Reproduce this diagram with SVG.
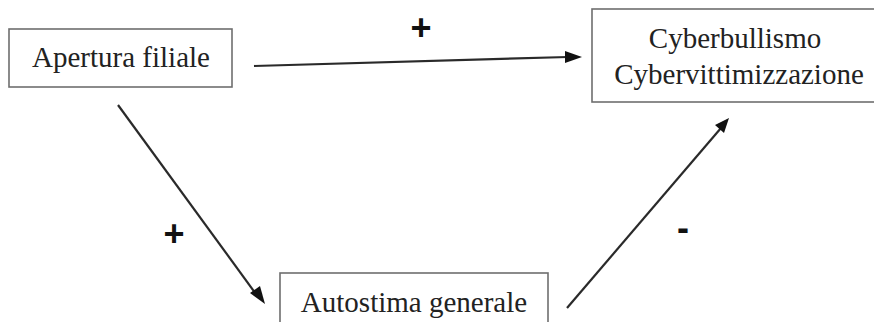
<svg xmlns="http://www.w3.org/2000/svg" width="874" height="322" viewBox="0 0 874 322">
<style>
.box{fill:#fff;stroke:#6e6e6e;stroke-width:1.6}
.lbl{font-family:"Liberation Serif","Times New Roman",serif;font-size:29px;fill:#222;text-anchor:middle}
.sign{font-family:"Liberation Sans",Arial,sans-serif;font-size:36px;font-weight:bold;fill:#111;text-anchor:middle}
.conn{stroke:#2a2a2a;stroke-width:2.2;fill:none}
.head{fill:#111}
</style>
<rect width="874" height="322" fill="#fff"/>
<g id="n-apertura">
<rect class="box" x="9" y="29" width="223" height="58"/>
<text class="lbl" x="121" y="67">Apertura filiale</text>
</g>
<g id="n-cyber">
<rect class="box" x="592" y="9" width="292" height="93"/>
<text class="lbl" x="735" y="48">Cyberbullismo</text>
<text class="lbl" x="739" y="84">Cybervittimizzazione</text>
</g>
<g id="n-autostima">
<rect class="box" x="280" y="273" width="268" height="60"/>
<text class="lbl" x="414" y="312">Autostima generale</text>
</g>
<g id="connectors">
<line class="conn" x1="254" y1="66" x2="568" y2="57"/>
<path class="head" d="M565,51 L582,57 L565,63 Z"/>
<line class="conn" x1="118" y1="105" x2="256" y2="294"/>
<path class="head" d="M250,293 L265,304 L260,286 Z"/>
<line class="conn" x1="567" y1="308" x2="721" y2="128"/>
<path class="head" d="M715,125 L729,118 L724,133 Z"/>
</g>
<g id="labels">
<text class="sign" x="421" y="40">+</text>
<text class="sign" x="174" y="246">+</text>
<text class="sign" x="683" y="240">-</text>
</g>
</svg>
